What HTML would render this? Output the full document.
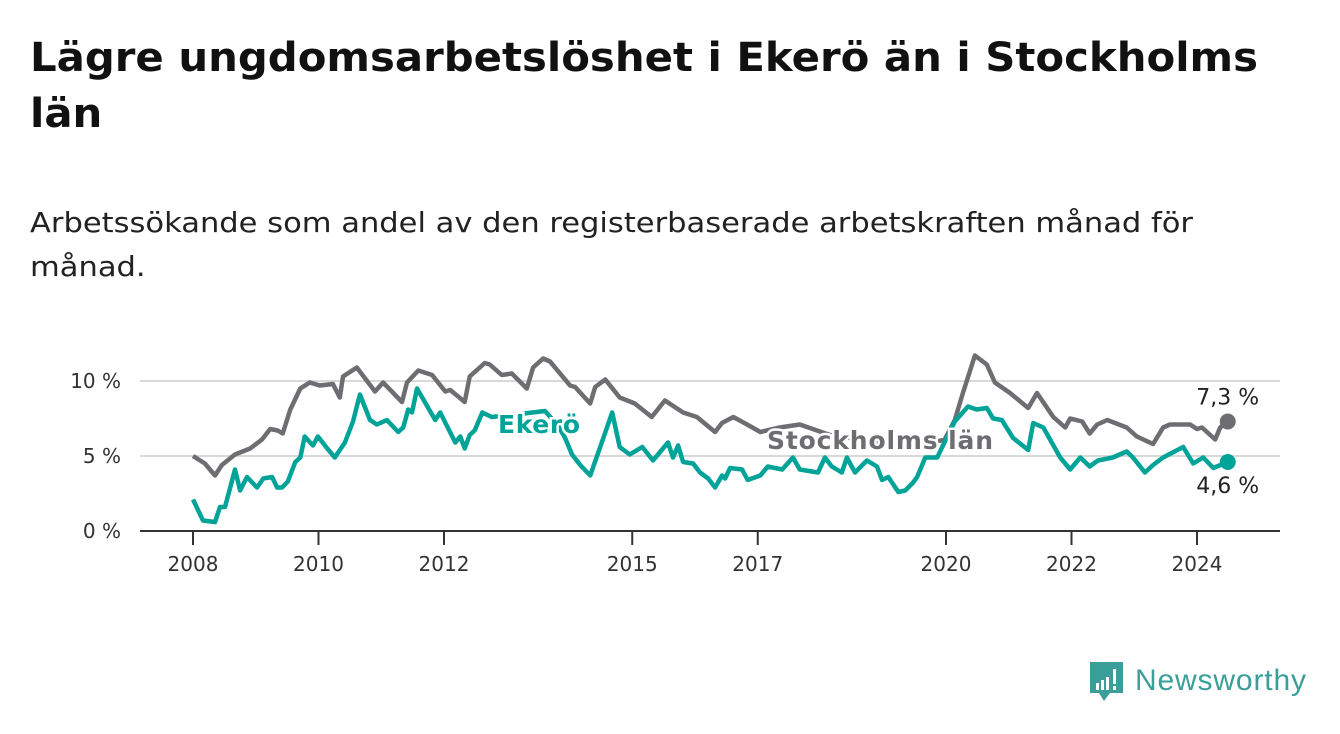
<!DOCTYPE html>
<html><head><meta charset="utf-8">
<style>
body{margin:0;width:1340px;height:734px;background:#fff;font-family:"DejaVu Sans","Liberation Sans",sans-serif;overflow:hidden;position:relative}
h1{position:absolute;left:30px;top:30px;margin:0;font-size:40px;line-height:56px;font-weight:bold;color:#111;white-space:nowrap;transform-origin:0 0}
.sub{position:absolute;left:30px;top:201px;margin:0;font-size:28px;line-height:44px;color:#222;white-space:nowrap;transform-origin:0 0}
svg{position:absolute;left:0;top:0}
</style></head><body>
<h1 id="ttl"><span id="t1">Lägre ungdomsarbetslöshet i Ekerö än i Stockholms</span><br>län</h1>
<p class="sub" id="sub"><span id="s1">Arbetssökande som andel av den registerbaserade arbetskraften månad för</span><br>månad.</p>
<svg id="chart" width="1340" height="734"></svg>
<svg width="1340" height="734" style="pointer-events:none">
<g>
<path d="M1090 662h33v31h-13l-6 8-5-8h-9z" fill="#3a9f98"/>
<rect x="1096" y="683" width="3" height="7" fill="#fff"/><rect x="1101" y="680" width="3" height="10" fill="#fff"/><rect x="1106" y="677" width="3" height="13" fill="#fff"/><rect x="1113" y="669" width="3" height="15" fill="#fff"/><rect x="1113" y="686" width="3" height="4" fill="#fff"/>
<text x="1135" y="690" font-size="30" fill="#3a9f98" font-family="Liberation Sans, sans-serif" textLength="171">Newsworthy</text>
</g></svg>
<script>
const xTickYears=[2008,2010,2012,2015,2017,2020,2022,2024];
const yTicks=[0,5,10];
const yTickLabels=["0 %","5 %","10 %"];
const sthlmYears=[2008,2008.19,2008.35,2008.46,2008.67,2008.91,2009.10,2009.23,2009.35,2009.43,2009.55,2009.71,2009.86,2010.02,2010.23,2010.34,2010.39,2010.61,2010.90,2011.03,2011.33,2011.41,2011.59,2011.81,2012.02,2012.10,2012.33,2012.41,2012.65,2012.73,2012.92,2013.08,2013.32,2013.42,2013.58,2013.69,2014.01,2014.09,2014.33,2014.41,2014.57,2014.80,2015.04,2015.31,2015.52,2015.81,2016.03,2016.32,2016.43,2016.61,2016.83,2017.04,2017.35,2017.67,2018.15,2018.63,2019.11,2019.59,2019.98,2020.14,2020.27,2020.46,2020.65,2020.78,2021.02,2021.31,2021.45,2021.71,2021.90,2021.98,2022.17,2022.29,2022.41,2022.57,2022.88,2023.04,2023.30,2023.46,2023.57,2023.89,2024.00,2024.08,2024.29,2024.37,2024.49];
const sthlmValues=[5.0,4.5,3.7,4.4,5.1,5.5,6.1,6.8,6.7,6.5,8.1,9.5,9.9,9.7,9.8,8.9,10.3,10.9,9.3,9.9,8.6,9.9,10.7,10.4,9.3,9.4,8.6,10.3,11.2,11.1,10.4,10.5,9.5,10.9,11.5,11.3,9.7,9.6,8.5,9.6,10.1,8.9,8.5,7.6,8.7,7.9,7.6,6.6,7.2,7.6,7.1,6.6,6.9,7.1,6.4,6.1,5.7,5.7,6.1,7.4,9.2,11.7,11.1,9.9,9.2,8.2,9.2,7.6,6.9,7.5,7.3,6.5,7.1,7.4,6.9,6.3,5.8,6.9,7.1,7.1,6.8,6.9,6.1,6.9,7.3];
const ekeroYears=[2008,2008.16,2008.35,2008.43,2008.51,2008.67,2008.75,2008.86,2009.02,2009.12,2009.26,2009.34,2009.42,2009.51,2009.63,2009.71,2009.78,2009.91,2009.99,2010.14,2010.26,2010.42,2010.55,2010.66,2010.82,2010.93,2011.09,2011.27,2011.35,2011.43,2011.49,2011.57,2011.86,2011.94,2012.18,2012.26,2012.33,2012.41,2012.49,2012.61,2012.76,2013.21,2013.61,2013.82,2013.93,2014.04,2014.17,2014.33,2014.49,2014.68,2014.80,2014.96,2015.16,2015.33,2015.57,2015.65,2015.73,2015.81,2015.97,2016.08,2016.21,2016.32,2016.43,2016.48,2016.56,2016.75,2016.84,2017.04,2017.16,2017.39,2017.56,2017.67,2017.96,2018.07,2018.18,2018.34,2018.42,2018.55,2018.74,2018.90,2018.98,2019.08,2019.24,2019.35,2019.47,2019.54,2019.67,2019.86,2019.94,2020.14,2020.35,2020.49,2020.65,2020.75,2020.89,2021.07,2021.31,2021.39,2021.55,2021.82,2021.98,2022.14,2022.29,2022.42,2022.66,2022.88,2022.98,2023.17,2023.30,2023.46,2023.78,2023.94,2024.10,2024.26,2024.49];
const ekeroValues=[2.1,0.7,0.6,1.6,1.6,4.1,2.7,3.6,2.9,3.5,3.6,2.9,2.9,3.3,4.6,4.9,6.3,5.7,6.3,5.5,4.9,5.9,7.3,9.1,7.4,7.1,7.4,6.6,6.9,8.1,7.9,9.5,7.4,7.9,5.9,6.3,5.5,6.4,6.7,7.9,7.6,7.8,8.0,7.0,6.2,5.1,4.4,3.7,5.6,7.9,5.6,5.1,5.6,4.7,5.9,4.9,5.7,4.6,4.5,3.9,3.5,2.9,3.7,3.5,4.2,4.1,3.4,3.7,4.3,4.1,4.9,4.1,3.9,4.9,4.3,3.9,4.9,3.9,4.7,4.3,3.4,3.6,2.6,2.7,3.2,3.6,4.9,4.9,5.6,7.3,8.3,8.1,8.2,7.5,7.4,6.2,5.4,7.2,6.9,4.9,4.1,4.9,4.3,4.7,4.9,5.3,4.9,3.9,4.4,4.9,5.6,4.5,4.9,4.2,4.6];

function fit(boxId,spanId,target){const b=document.getElementById(boxId),s=document.getElementById(spanId);const w=s.getBoundingClientRect().width;b.style.transform='scaleX('+(target/w)+')';}
fit('ttl','t1',1228);
fit('sub','s1',1163);

const NS='http://www.w3.org/2000/svg';
const svg=document.getElementById('chart');
const X=yr=>193+(yr-2008)*62.75;
const Y=v=>531-v*15;
function el(tag,attrs,parent){const e=document.createElementNS(NS,tag);for(const k in attrs)e.setAttribute(k,attrs[k]);(parent||svg).appendChild(e);return e;}

yTicks.forEach((t,i)=>{
  if(t>0){const g=el('line',{x1:140,x2:1280,y1:Y(t),y2:Y(t),stroke:'#d9d9d9','stroke-width':2});
  
  }
  const tx=el('text',{x:121,y:Y(t)+7,'text-anchor':'end','font-size':20,fill:'#333'});
  tx.textContent=yTickLabels[i];
  
  
});
const ax=el('line',{x1:140,x2:1280,y1:531,y2:531,stroke:'#333','stroke-width':2});


xTickYears.forEach(yr=>{
  const t=el('line',{x1:X(yr),x2:X(yr),y1:531,y2:545,stroke:'#333','stroke-width':2});
  
  
  const tx=el('text',{x:X(yr),y:571,'text-anchor':'middle','font-size':20,fill:'#333'});
  tx.textContent=yr;
  
  
});
function line(years,vals,color,name){
  const d=years.map((yr,i)=>(i?'L':'M')+X(yr).toFixed(1)+' '+Y(vals[i]).toFixed(1)).join('');
  const p=el('path',{d:d,fill:'none',stroke:color,'stroke-width':4.5,'stroke-linejoin':'round'});
  
  
  const n=years.length-1;
  const c=el('circle',{cx:X(years[n]),cy:Y(vals[n]),r:8,fill:color});
  
  
}
line(sthlmYears,sthlmValues,'#6e6d72','stockholm-line');
line(ekeroYears,ekeroValues,'#00a398','ekero-line');
function label(x,y,txt,color,name,anchor,bold,len){
  const a={x:x,y:y,'font-size':bold?25:22,'font-weight':bold?'bold':'normal',fill:color,stroke:'#fff','stroke-width':5,'paint-order':'stroke','text-anchor':anchor||'start'};
  if(len)a.textLength=len;
  const t=el('text',a);
  t.textContent=txt;
  
  
}
label(498,433,'Ekerö','#00a398','ekero-series-label','start',true,82);
label(767,449,'Stockholms län','#6e6d72','stockholm-series-label','start',true,226);
const ln=sthlmYears.length-1, le=ekeroYears.length-1;
label(X(sthlmYears[ln]),Y(sthlmValues[ln])-17,sthlmValues[ln].toFixed(1).replace('.',',')+' %','#222','stockholm-value-label','middle',false);
label(X(ekeroYears[le]),Y(ekeroValues[le])+31,ekeroValues[le].toFixed(1).replace('.',',')+' %','#222','ekero-value-label','middle',false);
</script>
</body></html>
